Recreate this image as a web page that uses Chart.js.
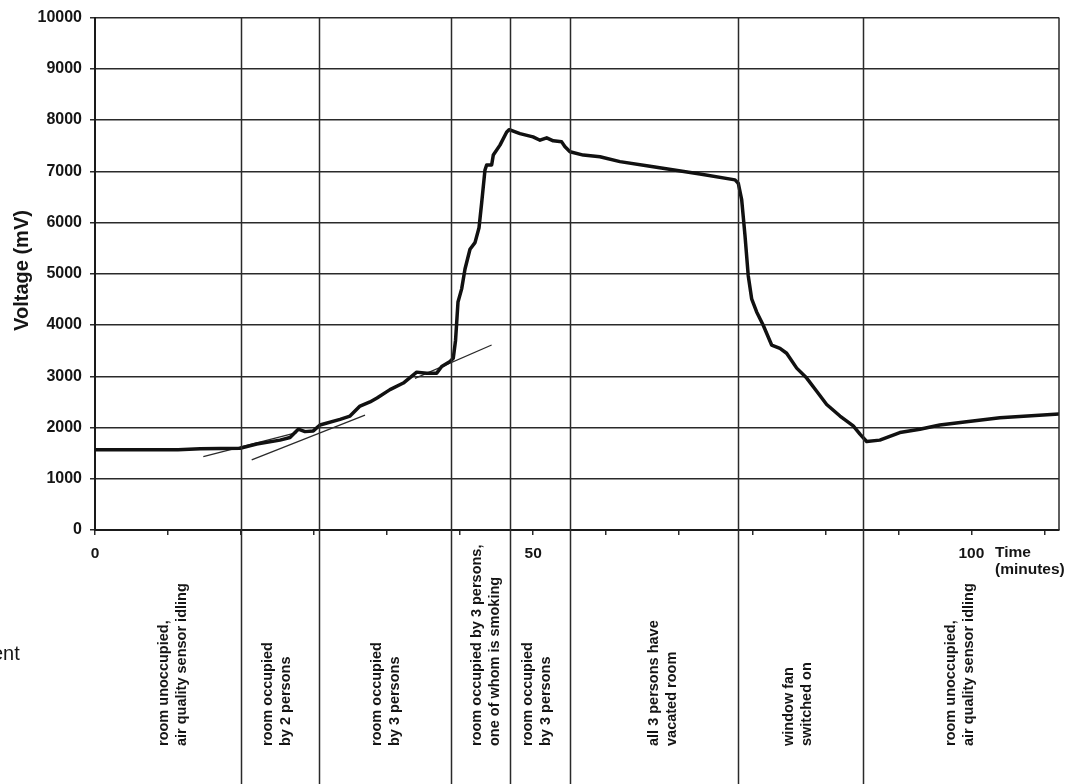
<!DOCTYPE html>
<html>
<head>
<meta charset="utf-8">
<script src="https://cdn.jsdelivr.net/npm/chart.js@4/dist/chart.umd.min.js"></script>
<style>
  html, body { margin: 0; padding: 0; background: #fff; }
  #wrap { position: relative; width: 1079px; height: 784px; }
</style>
</head>
<body>
<div id="wrap"><canvas id="c"></canvas></div>
<script>
// Sensor output over the course of the experiment
const timeMin = [0, 9.47, 12.0, 16.55, 18.45, 21.11, 22.25, 22.82, 23.20, 23.96, 24.91, 25.67,
  27.96, 29.10, 30.24, 31.38, 32.18, 33.66, 35.18, 36.71, 37.85, 38.99, 39.56, 40.51, 40.88,
  41.14, 41.42, 41.84, 42.22, 42.79, 43.36, 43.82, 44.12, 44.50, 44.69, 45.26, 45.45, 46.21,
  46.98, 47.27, 48.49, 49.98, 50.78, 51.54, 52.29, 53.25, 53.63, 54.20, 55.72, 57.62, 59.90,
  63.33, 69.03, 73.03, 73.40, 73.79, 74.17, 74.54, 74.93, 75.50, 76.25, 77.21, 78.16, 78.92,
  80.07, 81.21, 82.35, 83.49, 85.01, 86.52, 87.29, 88.05, 89.55, 91.84, 94.12, 96.40, 99.45,
  103.26, 110.0];
const voltageMv = [1567, 1567, 1586, 1596, 1677, 1754, 1804, 1901, 1967, 1920, 1934, 2050,
  2160, 2224, 2418, 2500, 2578, 2740, 2868, 3081, 3061, 3061, 3191, 3288, 3352,
  3700, 4448, 4706, 5093, 5480, 5609, 5899, 6382, 7027, 7124, 7124, 7317, 7511,
  7768, 7813, 7736, 7672, 7607, 7653, 7595, 7575, 7479, 7382, 7317, 7285, 7189,
  7098, 6949, 6833, 6769, 6446, 5744, 4964, 4512, 4255, 3997, 3610, 3545, 3449,
  3159, 2965, 2708, 2450, 2224, 2031, 1870, 1727, 1754, 1901, 1966, 2050, 2114,
  2191, 2263];

// Hand-drawn trend lines: [t0, t1] and [v0, v1]
const trendTimes = [[12.36, 23.01], [17.88, 30.81], [36.51, 45.26]];
const trendValues = [[1431, 1901], [1367, 2243], [2959, 3611]];

// Phase changes (minutes) and the description of each phase
const phaseBoundaries = [16.66, 25.56, 40.62, 47.35, 54.20, 73.40, 87.66];
const phaseLabelAt = [8.90, 20.77, 33.20, 44.67, 50.43, 64.81, 80.27, 98.76];
const phaseLabels = [
  ['room unoccupied,', 'air quality sensor idling'],
  ['room occupied', 'by 2 persons'],
  ['room occupied', 'by 3 persons'],
  ['room occupied by 3 persons,', 'one of whom is smoking'],
  ['room occupied', 'by 3 persons'],
  ['all 3 persons have', 'vacated room'],
  ['window fan', 'switched on'],
  ['room unoccupied,', 'air quality sensor idling']
];

const xTickValues = [0, 8.333333, 16.666667, 25, 33.333333, 41.666667, 50, 58.333333,
  66.666667, 75, 83.333333, 91.666667, 100, 108.333333];
const xTickLabels = ['0', '', '', '', '', '', '50', '', '', '', '', '', '100', ''];
const yTitle = 'Voltage (mV)';
const xTitle = ['Time', '(minutes)'];

const FONT = "'Liberation Sans', Arial, sans-serif";
const INK = '#151515';

const mainSeries = timeMin.map((t, i) => ({ x: t, y: voltageMv[i] }));
const trendSets = trendTimes.map((ts, i) => ({
  data: ts.map((t, j) => ({ x: t, y: trendValues[i][j] })),
  borderColor: '#2a2a2a',
  borderWidth: 1.3,
  pointRadius: 0,
  fill: false
}));

const annotate = {
  id: 'annotate',
  afterDatasetsDraw(chart) {
    const { ctx, chartArea, scales } = chart;
    const xs = scales.x;
    const H = chart.height;
    ctx.save();
    ctx.strokeStyle = '#2a2a2a';
    ctx.lineWidth = 1.5;
    // phase separators run from the top of the plot through the caption band
    phaseBoundaries.forEach(t => {
      const px = Math.round(xs.getPixelForValue(t)) + 0.5;
      ctx.beginPath();
      ctx.moveTo(px, chartArea.top);
      ctx.lineTo(px, H);
      ctx.stroke();
    });
    // right frame edge
    ctx.beginPath();
    ctx.moveTo(chartArea.right, chartArea.top);
    ctx.lineTo(chartArea.right, chartArea.bottom);
    ctx.stroke();

    // phase captions, rotated
    ctx.fillStyle = INK;
    ctx.font = 'bold 14.5px ' + FONT;
    ctx.textAlign = 'left';
    ctx.textBaseline = 'middle';
    phaseLabels.forEach((lines, i) => {
      const px = xs.getPixelForValue(phaseLabelAt[i]);
      ctx.save();
      ctx.translate(px, 746);
      ctx.rotate(-Math.PI / 2);
      ctx.fillText(lines[0], 0, -9);
      ctx.fillText(lines[1], 0, 9);
      ctx.restore();
    });

    // y axis title
    ctx.save();
    ctx.translate(22, 270.5);
    ctx.rotate(-Math.PI / 2);
    ctx.font = 'bold 20px ' + FONT;
    ctx.textAlign = 'center';
    ctx.textBaseline = 'middle';
    ctx.fillText(yTitle, 0, 0);
    ctx.restore();

    // x axis title
    ctx.font = 'bold 15.5px ' + FONT;
    ctx.textAlign = 'left';
    ctx.textBaseline = 'alphabetic';
    ctx.fillText(xTitle[0], 995, 557);
    ctx.fillText(xTitle[1], 995, 574);

    // text fragment at the left margin
    ctx.font = '20px ' + FONT;
    ctx.fillText('ent', -8, 660);
    ctx.restore();
  }
};

new Chart(document.getElementById('c'), {
  type: 'line',
  data: {
    datasets: [{
      data: mainSeries,
      borderColor: '#111',
      borderWidth: 3.5,
      pointRadius: 0,
      borderJoinStyle: 'round',
      borderCapStyle: 'round',
      fill: false
    }, ...trendSets]
  },
  options: {
    responsive: true,
    maintainAspectRatio: false,
    animation: false,
    events: [],
    layout: { padding: { top: 13, right: 20, bottom: 0, left: 0 } },
    plugins: { legend: { display: false }, tooltip: { enabled: false } },
    scales: {
      x: {
        type: 'linear',
        min: 0,
        max: 110,
        afterFit: s => { s.height = 254; },
        afterBuildTicks: s => { s.ticks = xTickValues.map(v => ({ value: v })); },
        ticks: {
          autoSkip: false,
          maxRotation: 0,
          padding: 9,
          color: INK,
          font: { family: FONT, weight: 'bold', size: 15.5 },
          callback: (v, i) => xTickLabels[i]
        },
        grid: { drawOnChartArea: false, drawTicks: true, tickLength: 5, color: '#2a2a2a', lineWidth: 1.5 },
        border: { display: true, color: '#1a1a1a', width: 2 }
      },
      y: {
        min: 0,
        max: 10000,
        afterFit: s => { s.width = 95; },
        ticks: {
          stepSize: 1000,
          padding: 8,
          color: INK,
          font: { family: FONT, weight: 'bold', size: 16 },
          callback: v => String(v)
        },
        grid: { color: '#2a2a2a', lineWidth: 1.5, tickLength: 5 },
        border: { display: true, color: '#1a1a1a', width: 2 }
      }
    }
  },
  plugins: [annotate]
});
</script>
</body>
</html>
